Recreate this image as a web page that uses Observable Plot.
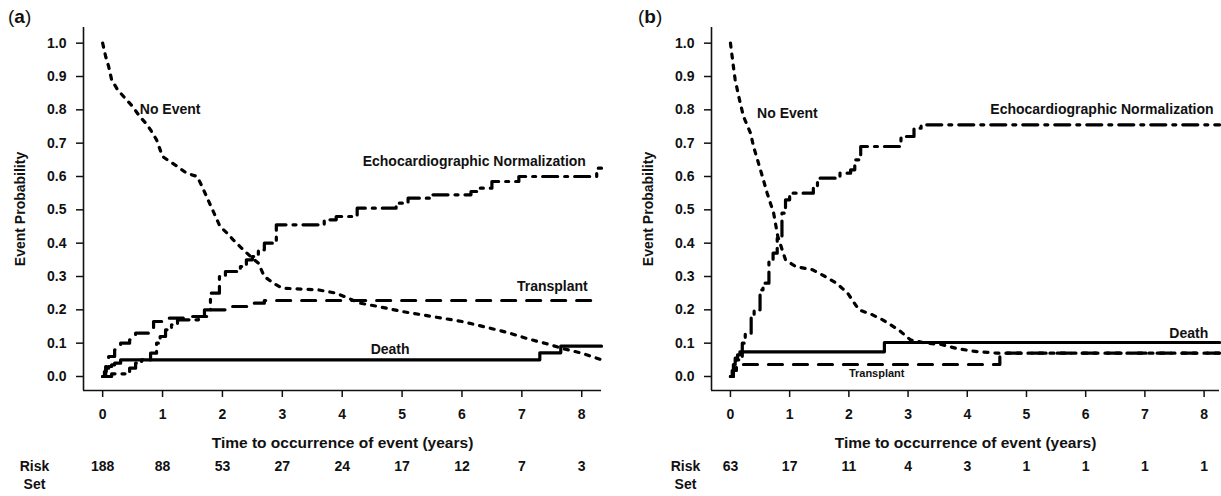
<!DOCTYPE html>
<html>
<head>
<meta charset="utf-8">
<script src="https://cdn.jsdelivr.net/npm/d3@7"></script>
<script src="https://cdn.jsdelivr.net/npm/@observablehq/plot@0.6"></script>
<style>
  html, body { margin: 0; padding: 0; background: #fff; }
  #wrap { position: relative; width: 1221px; height: 496px; display: flex; }
  .tag { position: absolute; top: 6px; font: 19px "Liberation Sans", Arial, sans-serif; color: #111; }
  .tag b { font-weight: bold; }
</style>
</head>
<body>
<div id="wrap">
  <div class="tag" style="left:8px">(<b>a</b>)</div>
  <div class="tag" style="left:638px">(<b>b</b>)</div>
</div>
<script>
// ---------- shared ticks ----------
const xTicks = [0, 1, 2, 3, 4, 5, 6, 7, 8];
const yTicks = [0, 0.1, 0.2, 0.3, 0.4, 0.5, 0.6, 0.7, 0.8, 0.9, 1.0];

// ---------- data: panel (a) ----------
const noEventA_t = [0, 0.05, 0.1, 0.15, 0.25, 0.4, 0.5, 0.62, 0.72, 0.8, 0.9, 1.0, 1.12, 1.25, 1.4, 1.58, 1.66, 1.76, 1.86, 1.96, 2.08, 2.18, 2.35, 2.5, 2.6, 2.7, 2.85, 3.0, 3.6, 3.9, 4.1, 4.3, 4.6, 5.0, 5.5, 6.0, 6.4, 6.8, 7.1, 7.4, 7.7, 8.0, 8.33];
const noEventA_p = [1.0, 0.96, 0.93, 0.89, 0.86, 0.83, 0.81, 0.78, 0.76, 0.74, 0.71, 0.66, 0.645, 0.63, 0.61, 0.60, 0.57, 0.53, 0.49, 0.45, 0.43, 0.41, 0.38, 0.355, 0.34, 0.30, 0.28, 0.265, 0.26, 0.25, 0.235, 0.22, 0.21, 0.195, 0.18, 0.165, 0.148, 0.13, 0.113, 0.099, 0.083, 0.07, 0.05];

const echoA_t = [0, 0.15, 0.45, 0.55, 0.65, 0.8, 0.9, 0.96, 1.05, 1.15, 1.25, 1.6, 1.7, 1.8, 1.95, 2.05, 2.3, 2.4, 2.5, 2.6, 2.7, 2.9, 3.7, 3.9, 4.25, 4.9, 5.1, 5.5, 6.15, 6.3, 6.5, 6.95, 8.25, 8.33];
const echoA_p = [0, 0.008, 0.025, 0.04, 0.05, 0.07, 0.1, 0.12, 0.14, 0.155, 0.17, 0.18, 0.2, 0.25, 0.3, 0.315, 0.33, 0.35, 0.36, 0.38, 0.4, 0.455, 0.47, 0.48, 0.505, 0.52, 0.535, 0.545, 0.555, 0.565, 0.585, 0.6, 0.625, 0.625];

const transplantA_t = [0, 0.05, 0.1, 0.2, 0.3, 0.45, 0.55, 0.85, 1.1, 1.5, 1.8, 2.15, 2.5, 2.7, 8.33];
const transplantA_p = [0, 0.03, 0.06, 0.08, 0.1, 0.11, 0.13, 0.165, 0.175, 0.18, 0.2, 0.21, 0.22, 0.228, 0.228];

const deathA_t = [0, 0.03, 0.06, 0.1, 0.15, 0.2, 0.3, 7.3, 7.65, 8.33];
const deathA_p = [0, 0.015, 0.025, 0.03, 0.035, 0.04, 0.05, 0.071, 0.091, 0.091];

const riskA = [188, 88, 53, 27, 24, 17, 12, 7, 3];

const labelA_text = ["No Event", "Echocardiographic Normalization", "Transplant", "Death"];
const labelA_t = [0.62, 8.07, 8.1, 4.8];
const labelA_p = [0.80, 0.645, 0.27, 0.08];

// ---------- data: panel (b) ----------
const noEventB_t = [0, 0.05, 0.08, 0.14, 0.22, 0.34, 0.39, 0.54, 0.62, 0.73, 0.8, 0.93, 1.1, 1.39, 1.6, 1.79, 1.98, 2.17, 2.4, 2.57, 2.84, 3.04, 3.3, 3.56, 3.8, 4.09, 4.5, 8.26];
const noEventB_p = [1.0, 0.93, 0.89, 0.84, 0.78, 0.73, 0.69, 0.6, 0.55, 0.49, 0.42, 0.35, 0.33, 0.32, 0.3, 0.28, 0.25, 0.2, 0.185, 0.17, 0.14, 0.11, 0.1, 0.096, 0.085, 0.076, 0.07, 0.07];

const echoB_t = [0, 0.05, 0.1, 0.2, 0.25, 0.35, 0.4, 0.5, 0.55, 0.65, 0.72, 0.79, 0.87, 0.93, 1.0, 1.4, 1.47, 1.85, 2.03, 2.1, 2.2, 2.88, 2.95, 3.1, 3.22, 8.26];
const echoB_p = [0, 0.02, 0.05, 0.1, 0.13, 0.18, 0.2, 0.26, 0.28, 0.35, 0.37, 0.42, 0.49, 0.53, 0.55, 0.57, 0.595, 0.61, 0.62, 0.65, 0.69, 0.715, 0.72, 0.745, 0.755, 0.755];

const transplantB_t = [0, 0.05, 0.1, 4.55, 8.26];
const transplantB_p = [0, 0.018, 0.036, 0.07, 0.07];

const deathB_t = [0, 0.03, 0.05, 0.08, 0.12, 0.16, 2.6, 8.26];
const deathB_p = [0, 0.018, 0.036, 0.055, 0.065, 0.074, 0.102, 0.102];

const riskB = [63, 17, 11, 4, 3, 1, 1, 1, 1];

const labelB_text = ["No Event", "Echocardiographic Normalization", "Death", "Transplant"];
const labelB_t = [0.45, 8.16, 8.07, 2.47];
const labelB_p = [0.79, 0.80, 0.13, 0.01];

// ---------- helpers ----------
const zip = (t, p) => t.map((v, i) => ({t: v, p: p[i]}));
const sans = '"Liberation Sans", Arial, sans-serif';

function panel(o) {
  const ink = "#111";
  const risk = xTicks.map((t, i) => ({t, n: o.risk[i]}));
  const labels = o.labelText.map((s, i) => ({s, t: o.labelT[i], p: o.labelP[i], a: o.anchors[i], small: i === o.smallLabel}));
  const labelMarks = ["start", "middle", "end"].flatMap(anchor => [
    Plot.text(labels.filter(d => d.a === anchor && !d.small), {x: "t", y: "p", text: "s", textAnchor: anchor, fontSize: 14, fill: ink}),
    Plot.text(labels.filter(d => d.a === anchor && d.small), {x: "t", y: "p", text: "s", textAnchor: anchor, fontSize: 11, fill: ink})
  ]);
  return Plot.plot({
    width: o.width, height: 496,
    marginLeft: o.ml, marginRight: o.mr, marginTop: 27, marginBottom: 106,
    style: {fontFamily: sans, fontWeight: "bold", color: ink, background: "white", overflow: "visible"},
    x: {domain: [-0.32, o.xMax]},
    y: {domain: [-0.042, 1.047]},
    marks: [
      Plot.axisX(xTicks, {tickSize: 7, tickPadding: 12, strokeWidth: 1.5, fontSize: 14, tickFormat: d => String(d), label: null}),
      Plot.axisY(yTicks, {tickSize: 7, tickPadding: 10, strokeWidth: 1.5, fontSize: 14, tickFormat: d3.format(".1f"), label: null}),
      Plot.ruleX([-0.32], {stroke: ink, strokeWidth: 1.6}),
      Plot.ruleY([-0.042], {stroke: ink, strokeWidth: 1.6}),
      Plot.line(zip(o.noE[0], o.noE[1]), {x: "t", y: "p", stroke: "#000", strokeWidth: 3.2, strokeDasharray: "4,7"}),
      Plot.line(zip(o.echo[0], o.echo[1]), {x: "t", y: "p", curve: "step-after", stroke: "#000", strokeWidth: 3.2, strokeDasharray: "15,7,3,7"}),
      Plot.line(zip(o.trans[0], o.trans[1]), {x: "t", y: "p", curve: "step-after", stroke: "#000", strokeWidth: 3.2, strokeDasharray: "14,11"}),
      Plot.line(zip(o.death[0], o.death[1]), {x: "t", y: "p", curve: "step-after", stroke: "#000", strokeWidth: 3.2}),
      ...labelMarks,
      Plot.text(risk, {x: "t", text: "n", frameAnchor: "bottom", dy: 80, fontSize: 14, fill: ink}),
      Plot.text(["Risk"], {text: d => d, frameAnchor: "bottom-left", textAnchor: "middle", dx: o.riskDx, dy: 80, fontSize: 14, fill: ink}),
      Plot.text(["Set"], {text: d => d, frameAnchor: "bottom-left", textAnchor: "middle", dx: o.riskDx, dy: 98, fontSize: 14, fill: ink}),
      Plot.text(["Time to occurrence of event (years)"], {text: d => d, frameAnchor: "bottom", textAnchor: "middle", dy: 57, fontSize: 15.5, fill: ink}),
      Plot.text(["Event Probability"], {text: d => d, frameAnchor: "left", textAnchor: "middle", rotate: -90, dx: o.titleDx, fontSize: 14, fill: ink})
    ]
  });
}

const wrap = document.getElementById("wrap");
wrap.appendChild(panel({width: 610, ml: 83, mr: 9, xMax: 8.33,
  noE: [noEventA_t, noEventA_p], echo: [echoA_t, echoA_p], trans: [transplantA_t, transplantA_p], death: [deathA_t, deathA_p],
  risk: riskA, labelText: labelA_text, labelT: labelA_t, labelP: labelA_p, anchors: ["start", "end", "end", "middle"], smallLabel: -1,
  riskDx: -49, titleDx: -63}));
wrap.appendChild(panel({width: 611, ml: 101, mr: 2, xMax: 8.26,
  noE: [noEventB_t, noEventB_p], echo: [echoB_t, echoB_p], trans: [transplantB_t, transplantB_p], death: [deathB_t, deathB_p],
  risk: riskB, labelText: labelB_text, labelT: labelB_t, labelP: labelB_p, anchors: ["start", "end", "end", "middle"], smallLabel: 3,
  riskDx: -26, titleDx: -63}));
</script>
</body>
</html>
